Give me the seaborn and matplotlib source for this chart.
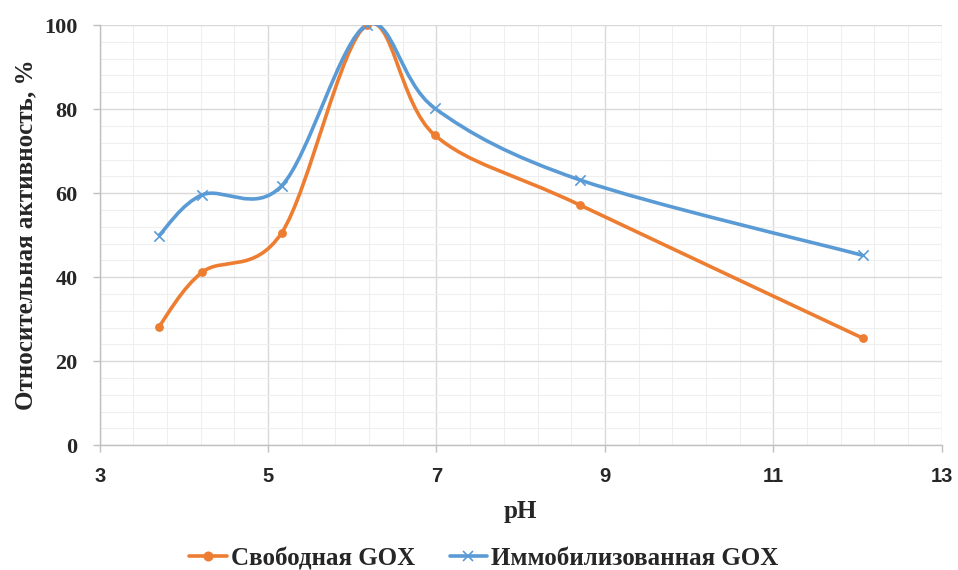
import numpy as np
import pandas as pd
import seaborn as sns
import matplotlib.pyplot as plt
from matplotlib.path import Path
from matplotlib.patches import PathPatch
from matplotlib.lines import Line2D

ph = [3.7, 4.22, 5.16, 6.17, 6.98, 8.71, 12.06]
free_gox = [28.1, 41.2, 50.5, 100.0, 73.8, 57.1, 25.5]
immob_gox = [49.8, 59.6, 61.7, 100.0, 80.2, 63.1, 45.2]
series_names = ['Свободная GOX', 'Иммобилизованная GOX']
colors = ['#ED7D31', '#5B9BD5']
markers = ['o', 'x']

df = pd.concat([
    pd.DataFrame({'pH': ph, 'act': free_gox, 'series': series_names[0]}),
    pd.DataFrame({'pH': ph, 'act': immob_gox, 'series': series_names[1]}),
])


def smooth_path(x, y):
    # excel-like smoothed line, catmull-rom segments as cubic beziers
    pts = np.column_stack([x, y])
    n = len(pts)
    verts = [pts[0]]
    codes = [Path.MOVETO]
    for i in range(n - 1):
        p0 = pts[max(i - 1, 0)]
        p1, p2 = pts[i], pts[i + 1]
        p3 = pts[min(i + 2, n - 1)]
        verts += [p1 + (p2 - p0) / 6, p2 - (p3 - p1) / 6, p2]
        codes += [Path.CURVE4] * 3
    return Path(verts, codes)


sns.set_theme(style='white')
plt.rcParams['font.family'] = ['Liberation Serif', 'DejaVu Serif']
plt.rcParams['font.weight'] = 'bold'

fig = plt.figure(figsize=(9.58, 5.7), dpi=100)
ax = fig.add_axes([0.104, 0.219, 0.879, 0.737])

for name, col, mk in zip(series_names, colors, markers):
    sub = df[df['series'] == name]
    ax.add_patch(PathPatch(smooth_path(sub['pH'].values, sub['act'].values),
                           facecolor='none', edgecolor=col, lw=2.6, zorder=3))
    if mk == 'o':
        sns.scatterplot(x='pH', y='act', data=sub, ax=ax, color=col, marker='o',
                        s=40, edgecolor=col, linewidth=0, zorder=4, legend=False)
    else:
        sns.scatterplot(x='pH', y='act', data=sub, ax=ax, color=col, marker='x',
                        s=55, linewidth=1.2, zorder=4, legend=False)

ax.set_xlim(3, 13)
ax.set_ylim(0, 100)
ax.set_xticks(range(3, 14, 2))
ax.set_yticks(range(0, 101, 20))
ax.set_xticks(np.arange(3, 13.01, 0.4), minor=True)
ax.set_yticks(np.arange(0, 100.01, 4), minor=True)
ax.grid(which='major', color='#d9d9d9', lw=1.0)
ax.grid(which='minor', color='#efefef', lw=0.8)
ax.set_axisbelow(True)
for s in ['top', 'right']:
    ax.spines[s].set_visible(False)
for s in ['left', 'bottom']:
    ax.spines[s].set_color('#bfbfbf')
    ax.spines[s].set_linewidth(1.0)
ax.tick_params(which='major', length=5, color='#bfbfbf', width=1, pad=11,
               left=True, bottom=True)
ax.tick_params(which='minor', length=0)
for lab in ax.get_xticklabels():
    lab.set_fontfamily(['Liberation Sans', 'DejaVu Sans'])
    lab.set_fontweight('bold')
    lab.set_fontsize(14.5)
for lab in ax.get_yticklabels():
    lab.set_fontweight('bold')
    lab.set_fontsize(16)

ax.set_xlabel('pH', fontsize=18, fontweight='bold', labelpad=10)
ax.set_ylabel('Относительная активность, %', fontsize=18, fontweight='bold', labelpad=5)

handles = [Line2D([], [], color=c, marker=m, lw=2.6, markersize=6 if m == 'o' else 7,
                  markeredgewidth=1.2) for c, m in zip(colors, markers)]
fig.legend(handles, series_names, loc='center', bbox_to_anchor=(0.505, 0.02), ncol=2,
           frameon=False, prop={'size': 18, 'weight': 'bold'}, handlelength=1.5,
           handletextpad=0.15, columnspacing=1.4)

plt.savefig('out.png', dpi=100)
